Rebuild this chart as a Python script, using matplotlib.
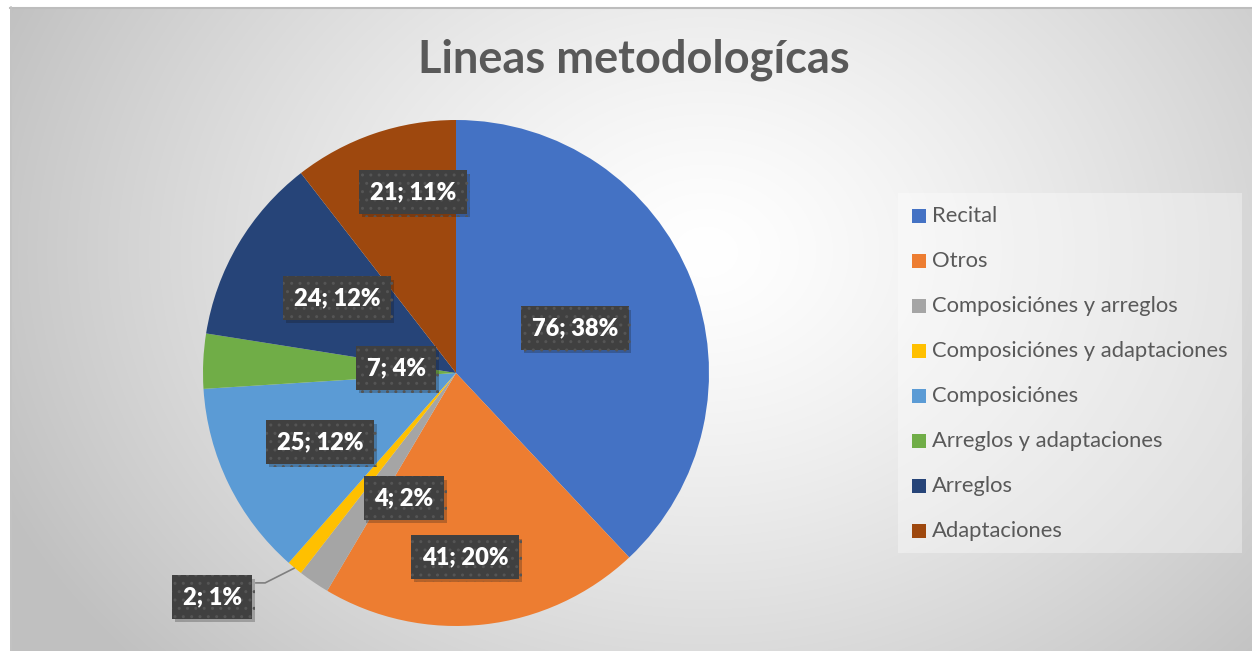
import numpy as np
import matplotlib
matplotlib.use("Agg")
import matplotlib.pyplot as plt
from matplotlib.patches import Rectangle
import matplotlib.patheffects as pe

categories = ["Recital", "Otros", "Composiciónes y arreglos", "Composiciónes y adaptaciones",
              "Composiciónes", "Arreglos y adaptaciones", "Arreglos", "Adaptaciones"]
values = [76, 41, 4, 2, 25, 7, 24, 21]
percents = [38, 20, 2, 1, 12, 4, 12, 11]
colors = ["#4472C4", "#ED7D31", "#A5A5A5", "#FFC000", "#5B9BD5", "#70AD47", "#264478", "#9E480E"]
title = "Lineas metodologícas"

# label centre positions in pie units (radius = 1)
label_pos = [(0.470, 0.178), (0.036, -0.727), (-0.206, -0.494), (-0.964, -0.885),
             (-0.538, -0.273), (-0.237, 0.020), (-0.470, 0.296), (-0.170, 0.715)]

W, H = 1252, 651
fig = plt.figure(figsize=(W / 100, H / 100), dpi=100)
fig.patch.set_facecolor("white")
FONT = "Lato"

# background with radial gradient
bg = fig.add_axes([10 / W, 0, (W - 10) / W, (H - 7) / H])
bw, bh = W - 10, H - 7
yy, xx = np.mgrid[0:bh, 0:bw]
cx, cy = 0.56 * bw, 0.38 * bh
d = np.sqrt(((xx - cx) / (0.62 * bw)) ** 2 + ((yy - cy) / (0.95 * bh)) ** 2)
d = np.clip(d, 0, 1)
g = 1 - 0.245 * d ** 1.3
bg.imshow(np.dstack([g, g, g]), extent=[0, bw, bh, 0], aspect="auto", interpolation="bilinear")
bg.set_xlim(0, bw)
bg.set_ylim(bh, 0)
bg.axis("off")
# top and left border
fig.add_artist(plt.Line2D([10 / W, 1], [1 - 7.5 / H, 1 - 7.5 / H], color="#bdbdbd", lw=1.5))
fig.add_artist(plt.Line2D([10.5 / W, 10.5 / W], [0, 1 - 7 / H], color="#c3c3c3", lw=1.2))

# title
fig.text(634 / W, 1 - 60 / H, title, ha="center", va="center", fontsize=32.5,
         fontweight="bold", color="#595959", family=FONT)

# pie
cxp, cyp, R = 456, 373, 253
ax = fig.add_axes([(cxp - R) / W, (H - cyp - R) / H, 2 * R / W, 2 * R / H])
ax.set_xlim(-1, 1)
ax.set_ylim(-1, 1)
ax.axis("off")
wedges, _ = ax.pie(values, colors=colors, startangle=90, counterclock=False, radius=1,
                   wedgeprops=dict(linewidth=0), center=(0, 0), frame=False)
ax.set_xlim(-1, 1)
ax.set_ylim(-1, 1)

total = sum(values)
cum = 0
for i, (v, p) in enumerate(zip(values, percents)):
    mid = 90 - 360 * (cum + v / 2) / total
    cum += v
    lx, ly = label_pos[i]
    t = ax.text(lx, ly, f"{v}; {p}%", ha="center", va="center", fontsize=17,
                fontweight="heavy", color="white", family=FONT, zorder=5,
                bbox=dict(boxstyle="square,pad=0.45", facecolor="#404040",
                          edgecolor="#555555", linewidth=0, hatch=".."))
    t.get_bbox_patch().set_path_effects([pe.SimplePatchShadow(offset=(2, -2.5), alpha=0.25),
                                         pe.Normal()])
    if v / total < 0.015:
        ex, ey = np.cos(np.radians(mid)), np.sin(np.radians(mid))
        bx = lx + 43 / R
        ax.plot([bx, bx + 10 / R, ex], [ly + 14 / R, ly + 14 / R, ey], color="#7f7f7f",
                lw=1.2, zorder=4, solid_capstyle="butt", clip_on=False)

# legend
lg = Rectangle((898 / W, 1 - 553 / H), (1242 - 898) / W, (553 - 193) / H,
               transform=fig.transFigure, facecolor="white", alpha=0.35, edgecolor="none")
fig.add_artist(lg)
for i, (c, col) in enumerate(zip(categories, colors)):
    yc = 216 + 45 * i
    fig.add_artist(Rectangle((912 / W, 1 - (yc + 7) / H), 14 / W, 14 / H,
                             transform=fig.transFigure, facecolor=col, edgecolor="none"))
    fig.text(932 / W, 1 - yc / H, c, ha="left", va="center", fontsize=15.8,
             color="#595959", family=FONT)

fig.savefig("out.png", dpi=100)
